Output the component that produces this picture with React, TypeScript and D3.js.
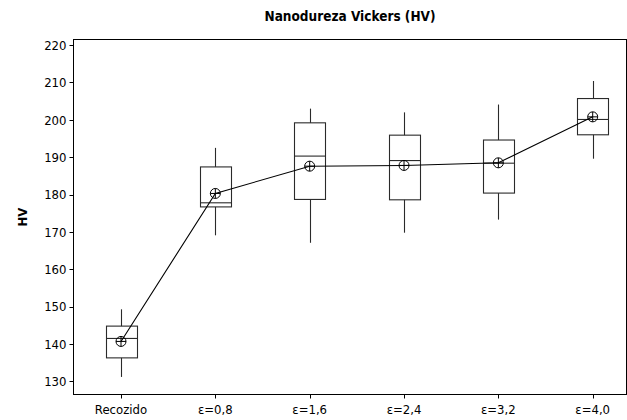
import React from "react";
import * as d3 from "d3";

const categories = ["Recozido", "ε=0,8", "ε=1,6", "ε=2,4", "ε=3,2", "ε=4,0"];
const whiskerLow = [131.2, 169.1, 167.1, 169.8, 173.3, 189.6];
const q1 = [136.3, 176.7, 178.7, 178.6, 180.4, 196.0];
const median = [141.5, 177.8, 190.3, 189.1, 188.4, 200.1];
const q3 = [144.8, 187.4, 199.2, 195.9, 194.6, 205.7];
const whiskerHigh = [149.3, 192.5, 203.0, 202.0, 204.1, 210.4];
const means = [140.7, 180.3, 187.6, 187.8, 188.5, 200.8];
const yTicks = [130, 140, 150, 160, 170, 180, 190, 200, 210, 220];

const W = 627;
const H = 420;
const left = 73.5;
const right = 626.5;
const top = 39.5;
const bottom = 394.5;

export default function App() {
  const y = d3.scaleLinear().domain([126.5, 221.5]).range([bottom, top]);
  const x = d3
    .scaleLinear()
    .domain([0, categories.length - 1])
    .range([121, 592.7]);
  const boxW = 31;
  const font = "'DejaVu Sans Condensed', 'DejaVu Sans', Verdana, sans-serif";
  const line = d3
    .line<number>()
    .x((_, i) => x(i))
    .y((d) => y(d));

  return (
    <svg
      width={W}
      height={H}
      style={{ position: "absolute", left: 0, top: 0, background: "#fff" }}
      fontFamily={font}
    >
      <text
        x={(left + right) / 2}
        y={21}
        textAnchor="middle"
        fontWeight="bold"
        fontSize={13.5}
        fill="#000"
      >
        Nanodureza Vickers (HV)
      </text>
      <text
        transform={`translate(27,${(top + bottom) / 2}) rotate(-90)`}
        textAnchor="middle"
        fontWeight="bold"
        fontSize={13}
        fill="#000"
      >
        HV
      </text>
      {/* frame */}
      <rect
        x={left}
        y={top}
        width={right - left}
        height={bottom - top}
        fill="none"
        stroke="#000"
        strokeWidth={1}
      />
      {/* y ticks */}
      {yTicks.map((t) => (
        <g key={t}>
          <line
            x1={left - 4}
            x2={left}
            y1={Math.round(y(t)) + 0.5}
            y2={Math.round(y(t)) + 0.5}
            stroke="#000"
          />
          <text
            x={left - 7}
            y={y(t)}
            dy="0.36em"
            textAnchor="end"
            fontSize={13}
            fill="#000"
          >
            {t}
          </text>
        </g>
      ))}
      {/* x ticks */}
      {categories.map((c, i) => (
        <g key={c}>
          <line
            x1={Math.round(x(i)) + 0.5}
            x2={Math.round(x(i)) + 0.5}
            y1={bottom}
            y2={bottom + 4}
            stroke="#000"
          />
          <text
            x={x(i)}
            y={414}
            textAnchor="middle"
            fontSize={13}
            fill="#000"
          >
            {c}
          </text>
        </g>
      ))}
      {/* boxes */}
      {categories.map((c, i) => {
        const cx = Math.round(x(i)) + 0.5;
        const bx = Math.round(x(i) - boxW / 2) + 0.5;
        return (
          <g key={"b" + c} stroke="#2a2a2a" strokeWidth={1.1} fill="none">
            <line x1={cx} x2={cx} y1={y(whiskerHigh[i])} y2={y(q3[i])} />
            <line x1={cx} x2={cx} y1={y(q1[i])} y2={y(whiskerLow[i])} />
            <rect
              x={bx}
              y={y(q3[i])}
              width={boxW}
              height={y(q1[i]) - y(q3[i])}
            />
            <line
              x1={bx}
              x2={bx + boxW}
              y1={y(median[i])}
              y2={y(median[i])}
            />
          </g>
        );
      })}
      {/* mean line */}
      <path d={line(means) || ""} fill="none" stroke="#000" strokeWidth={1.1} />
      {means.map((m, i) => (
        <g key={"m" + i} stroke="#000" strokeWidth={1} fill="none">
          <circle cx={x(i)} cy={y(m)} r={5} />
          <line x1={x(i) - 5} x2={x(i) + 5} y1={y(m)} y2={y(m)} />
          <line x1={x(i)} x2={x(i)} y1={y(m) - 5} y2={y(m) + 5} />
        </g>
      ))}
    </svg>
  );
}
